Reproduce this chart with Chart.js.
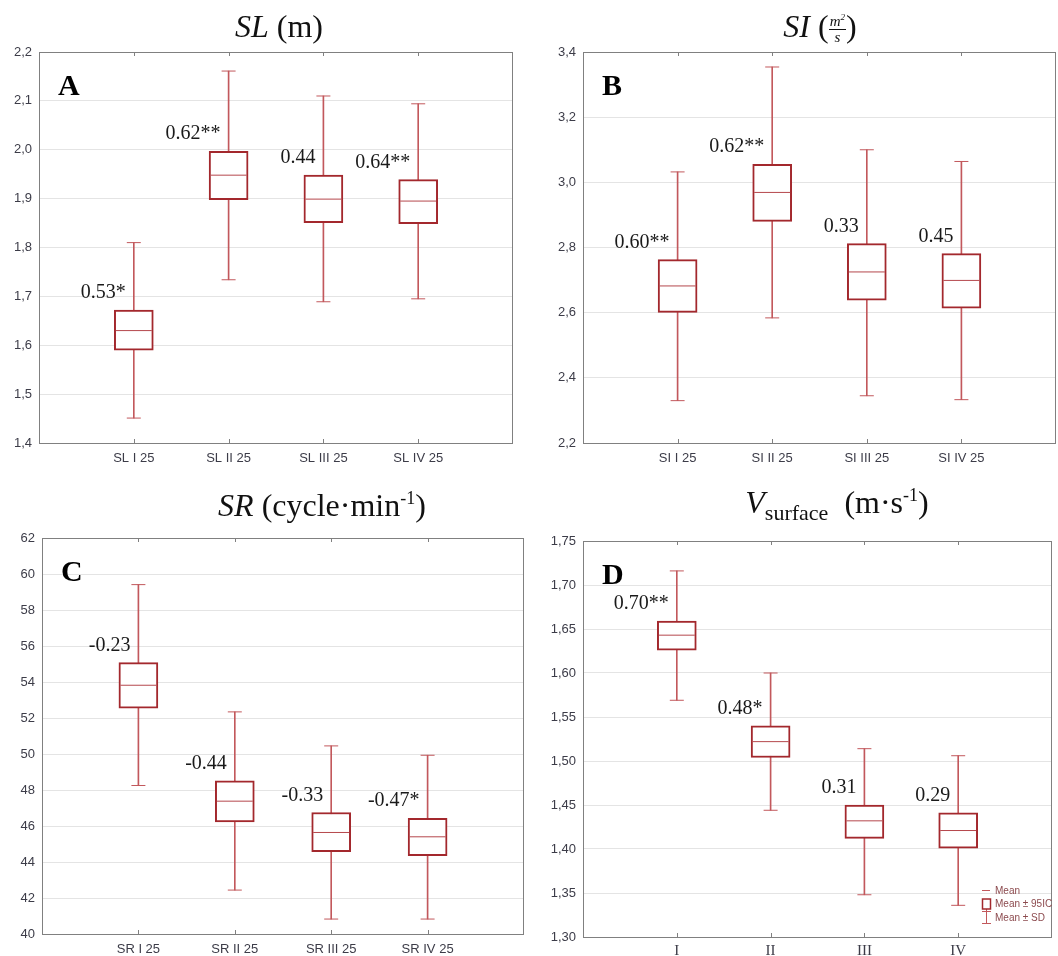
<!DOCTYPE html>
<html>
<head>
<meta charset="utf-8">
<script src="https://cdn.jsdelivr.net/npm/chart.js@4/dist/chart.umd.min.js"></script>
<style>
  body { margin: 0; background: #fff; width: 1058px; height: 956px; position: relative; overflow: hidden; }
  canvas { position: absolute; }
  .title { position: absolute; font-family: "Liberation Serif", "Times New Roman", serif; font-size: 32px; line-height: 32px; color: #111; white-space: nowrap; text-align: center; }
  .title sup, .title sub { line-height: 0; }
  .frac { display: inline-block; vertical-align: -5px; font-size: 15px; line-height: 14px; text-align: center; font-style: italic; }
  .frac span { display: block; padding: 0 1px; }
  .frac .num { border-bottom: 1px solid #111; padding-bottom: 1px; }
</style>
</head>
<body>
<canvas id="chartA" width="529" height="470" style="left:0;top:0"></canvas>
<canvas id="chartB" width="529" height="470" style="left:529px;top:0"></canvas>
<canvas id="chartC" width="529" height="486" style="left:0;top:470px"></canvas>
<canvas id="chartD" width="529" height="486" style="left:529px;top:470px"></canvas>

<div class="title" style="left:179px;top:10px;width:200px"><i>SL</i> (m)</div>
<div class="title" style="left:720px;top:10px;width:200px"><i>SI</i> (<span class="frac"><span class="num">m<sup style="font-size:9px">2</sup></span><span>s</span></span>)</div>
<div class="title" style="left:172px;top:489px;width:300px"><i>SR</i> (cycle·min<sup style="font-size:18px">-1</sup>)</div>
<div class="title" style="left:687px;top:486px;width:300px"><i>V</i><sub style="font-size:22px">surface</sub>&nbsp; (m·s<sup style="font-size:18px">-1</sup>)</div>

<script>
// SL (m)
const slLabels = ['SL I 25', 'SL II 25', 'SL III 25', 'SL IV 25'];
const slMean = [1.630, 1.948, 1.899, 1.895];
const slCiLow = [1.590, 1.898, 1.851, 1.849];
const slCiHigh = [1.672, 1.997, 1.948, 1.939];
const slSdLow = [1.451, 1.734, 1.689, 1.695];
const slSdHigh = [1.810, 2.161, 2.110, 2.094];
const slNotes = ['0.53*', '0.62**', '0.44', '0.64**'];

// SI (m2/s)
const siLabels = ['SI I 25', 'SI II 25', 'SI III 25', 'SI IV 25'];
const siMean = [2.682, 2.969, 2.725, 2.699];
const siCiLow = [2.601, 2.880, 2.638, 2.614];
const siCiHigh = [2.763, 3.055, 2.812, 2.781];
const siSdLow = [2.330, 2.584, 2.345, 2.333];
const siSdHigh = [3.032, 3.354, 3.100, 3.064];
const siNotes = ['0.60**', '0.62**', '0.33', '0.45'];

// SR (cycle/min)
const srLabels = ['SR I 25', 'SR II 25', 'SR III 25', 'SR IV 25'];
const srMean = [53.82, 47.38, 45.64, 45.40];
const srCiLow = [52.54, 46.23, 44.57, 44.35];
const srCiHigh = [55.08, 48.51, 46.75, 46.42];
const srSdLow = [48.25, 42.44, 40.83, 40.83];
const srSdHigh = [59.41, 52.34, 50.45, 49.93];
const srNotes = ['-0.23', '-0.44', '-0.33', '-0.47*'];

// V surface (m/s)
const vLabels = ['I', 'II', 'III', 'IV'];
const vMean = [1.643, 1.522, 1.432, 1.421];
const vCiLow = [1.626, 1.504, 1.412, 1.401];
const vCiHigh = [1.659, 1.540, 1.450, 1.441];
const vSdLow = [1.569, 1.444, 1.348, 1.336];
const vSdHigh = [1.716, 1.600, 1.514, 1.506];
const vNotes = ['0.70**', '0.48*', '0.31', '0.29'];

const boxRed = '#a3282d';
const whiskerRed = '#c2585c';
const tickColor = '#3c3c48';

// frame, inward ticks, r-values, panel letter and legend
const extrasPlugin = {
  id: 'extras',
  afterDraw(chart, args, opts) {
    const ctx = chart.ctx;
    const a = chart.chartArea;
    const xs = chart.scales.x, ys = chart.scales.y;
    ctx.save();
    ctx.strokeStyle = '#808080';
    ctx.lineWidth = 1;
    ctx.strokeRect(Math.round(a.left) + 0.5, Math.round(a.top) + 0.5, Math.round(a.right - a.left) - 1, Math.round(a.bottom - a.top));
    ctx.beginPath();
    for (let i = 1; i <= opts.notes.length; i++) {
      const x = Math.round(xs.getPixelForValue(i)) + 0.5;
      ctx.moveTo(x, a.bottom); ctx.lineTo(x, a.bottom - 4);
      ctx.moveTo(x, a.top); ctx.lineTo(x, a.top + 4);
    }
    ctx.stroke();

    ctx.fillStyle = '#1a1a1a';
    ctx.font = '20px "Liberation Serif", serif';
    ctx.textAlign = 'right';
    ctx.textBaseline = 'alphabetic';
    opts.notes.forEach((t, i) => {
      ctx.fillText(t, xs.getPixelForValue(i + 1) - 8, ys.getPixelForValue(opts.top[i]) - 12);
    });

    ctx.fillStyle = '#000';
    ctx.font = 'bold 30px "Liberation Serif", serif';
    ctx.textAlign = 'left';
    ctx.fillText(opts.letter, a.left + 19, a.top + 43);

    if (opts.legend) {
      const lx = a.right - 70, by = a.bottom;
      ctx.strokeStyle = whiskerRed;
      ctx.lineWidth = 1;
      ctx.beginPath();
      ctx.moveTo(lx, by - 46.5); ctx.lineTo(lx + 8, by - 46.5);
      ctx.moveTo(lx + 4.5, by - 29); ctx.lineTo(lx + 4.5, by - 13);
      ctx.moveTo(lx, by - 25.5); ctx.lineTo(lx + 9, by - 25.5);
      ctx.moveTo(lx, by - 13.5); ctx.lineTo(lx + 9, by - 13.5);
      ctx.stroke();
      ctx.fillStyle = '#fff';
      ctx.fillRect(lx, by - 38, 9, 10);
      ctx.strokeStyle = boxRed;
      ctx.lineWidth = 1.5;
      ctx.strokeRect(lx + 0.5, by - 38, 8, 10);
      ctx.fillStyle = '#8c4a4e';
      ctx.font = '10px "Liberation Sans", sans-serif';
      ctx.textBaseline = 'middle';
      ctx.fillText('Mean', lx + 13, by - 46);
      ctx.fillText('Mean ± 95IC', lx + 13, by - 33);
      ctx.fillText('Mean ± SD', lx + 13, by - 19);
    }
    ctx.restore();
  }
};

function boxPanel(id, o) {
  const pad = v => [null].concat(v, [null]);
  const ranges = (lo, hi) => pad(lo.map((v, i) => [v, hi[i]]));
  const capStyle = { type: 'line', showLine: false, pointStyle: 'line', pointRadius: 7, pointBorderWidth: 1, pointBorderColor: whiskerRed };
  new Chart(document.getElementById(id), {
    type: 'bar',
    data: {
      labels: [''].concat(o.labels, ['']),
      datasets: [
        { label: 'Mean', type: 'line', data: pad(o.mean), showLine: false, pointStyle: 'line', pointRadius: 18, pointBorderWidth: 1, pointBorderColor: '#b5474c', order: 0 },
        { label: 'Mean ± 95IC', data: ranges(o.ciLow, o.ciHigh), backgroundColor: '#fff', borderColor: boxRed, borderWidth: 2, borderSkipped: false, barThickness: 39, grouped: false, order: 1 },
        Object.assign({ label: 'SD top', data: pad(o.sdHigh), order: 2 }, capStyle),
        Object.assign({ label: 'SD bottom', data: pad(o.sdLow), order: 2 }, capStyle),
        { label: 'Mean ± SD', data: ranges(o.sdLow, o.sdHigh), backgroundColor: whiskerRed, barThickness: 1, grouped: false, order: 3 }
      ]
    },
    options: {
      responsive: false,
      animation: false,
      events: [],
      layout: { autoPadding: false, padding: { top: o.padTop, right: o.padRight, bottom: 0, left: 0 } },
      plugins: {
        legend: { display: false },
        tooltip: { enabled: false },
        extras: { notes: o.notes, top: o.ciHigh, letter: o.letter, legend: !!o.legend }
      },
      scales: {
        x: {
          offset: false,
          grid: { display: false, drawTicks: false },
          border: { display: false },
          ticks: { autoSkip: false, maxRotation: 0, padding: o.xPad, color: tickColor, font: o.xFont },
          afterFit: s => { s.height = o.xHeight; s.paddingLeft = 0; s.paddingRight = 0; }
        },
        y: {
          min: o.yMin,
          max: o.yMax,
          grid: { color: '#e4e4e4', drawTicks: false },
          border: { display: false },
          ticks: {
            stepSize: o.yStep,
            padding: 7,
            color: tickColor,
            font: { family: '"Liberation Sans", Arial, sans-serif', size: 13 },
            callback: v => v.toFixed(o.dec).replace('.', ',')
          },
          afterFit: s => { s.width = o.yWidth; }
        }
      }
    },
    plugins: [extrasPlugin]
  });
}

const sansTicks = { family: '"Liberation Sans", Arial, sans-serif', size: 13 };

boxPanel('chartA', {
  labels: slLabels, mean: slMean, ciLow: slCiLow, ciHigh: slCiHigh, sdLow: slSdLow, sdHigh: slSdHigh, notes: slNotes,
  letter: 'A', yMin: 1.4, yMax: 2.2, yStep: 0.1, dec: 1,
  yWidth: 39, padTop: 52, padRight: 16, xHeight: 27, xPad: 8, xFont: sansTicks
});
boxPanel('chartB', {
  labels: siLabels, mean: siMean, ciLow: siCiLow, ciHigh: siCiHigh, sdLow: siSdLow, sdHigh: siSdHigh, notes: siNotes,
  letter: 'B', yMin: 2.2, yMax: 3.4, yStep: 0.2, dec: 1,
  yWidth: 54, padTop: 52, padRight: 2, xHeight: 27, xPad: 8, xFont: sansTicks
});
boxPanel('chartC', {
  labels: srLabels, mean: srMean, ciLow: srCiLow, ciHigh: srCiHigh, sdLow: srSdLow, sdHigh: srSdHigh, notes: srNotes,
  letter: 'C', yMin: 40, yMax: 62, yStep: 2, dec: 0,
  yWidth: 42, padTop: 68, padRight: 5, xHeight: 22, xPad: 8, xFont: sansTicks
});
boxPanel('chartD', {
  labels: vLabels, mean: vMean, ciLow: vCiLow, ciHigh: vCiHigh, sdLow: vSdLow, sdHigh: vSdHigh, notes: vNotes,
  letter: 'D', yMin: 1.30, yMax: 1.75, yStep: 0.05, dec: 2, legend: true,
  yWidth: 54, padTop: 71, padRight: 6, xHeight: 19, xPad: 5,
  xFont: { family: '"Liberation Serif", serif', size: 15 }
});
</script>
</body>
</html>
